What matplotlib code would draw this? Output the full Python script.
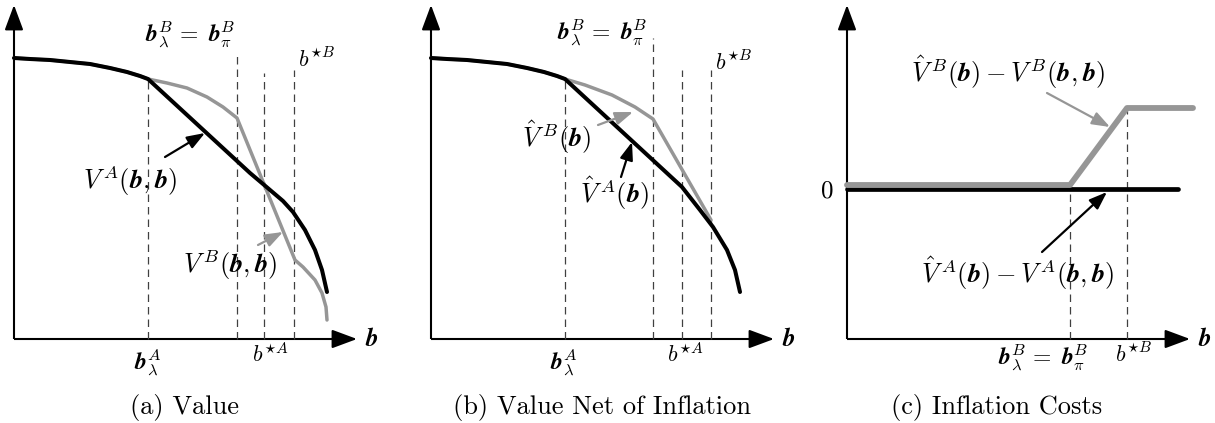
import numpy as np
import matplotlib
matplotlib.use("Agg")
import matplotlib.pyplot as plt

plt.rcParams['mathtext.fontset'] = 'cm'

GRAY = '#969696'

# coordinates are in "panel units": distance from the panel origin
# (a) Value
a_black_x = [0, 16, 36, 56, 76, 96, 113, 126, 134, 236, 249, 269, 279, 291, 301, 308, 313]
a_black_y = [281, 280, 279, 277, 275, 271, 267, 263, 260, 166, 155, 138, 127, 109, 89, 69, 47]
a_gray_x = [0, 16, 36, 56, 76, 96, 113, 126, 134, 153, 173, 193, 209, 223, 281, 289, 301, 308, 312, 313]
a_gray_y = [281, 280, 279, 277, 275, 271, 267, 263, 260, 256, 251, 242, 232, 221, 79, 72, 59, 46, 32, 19]
a_vlines_x = [134, 223, 250, 280]
a_vlines_top = [260, 284, 266, 269]

# (b) Value Net of Inflation
b_black_x = [0, 16, 36, 56, 76, 96, 113, 126, 134, 251, 269, 282, 296, 304, 309]
b_black_y = [281, 280, 279, 277, 275, 271, 267, 263, 260, 152, 129, 112, 89, 69, 47]
b_gray_x = [0, 16, 36, 56, 76, 96, 113, 126, 134, 154, 181, 204, 222, 280]
b_gray_y = [281, 280, 279, 277, 275, 271, 267, 263, 260, 254, 244, 232, 220, 119]
b_vlines_x = [134, 222, 251, 280]
b_vlines_top = [260, 301, 269, 269]

# (c) Inflation Costs
c_black_x = [0, 331]
c_black_y = [150, 150]
c_gray_x = [0, 223, 280, 346]
c_gray_y = [154, 154, 231, 231]
c_vlines_x = [223, 280]
c_vlines_top = [150, 231]

captions = ['(a) Value', '(b) Value Net of Inflation', '(c) Inflation Costs']
bb = r'\boldsymbol{b}'
b_eq = r'$' + bb + r'_\lambda^B\,=\;' + bb + r'_\pi^B$'
VA = r'{V\,}^{A}'
VB = r'{V\,}^{B}'
hVA = r'{\hat{V}\,}^{A}'
hVB = r'{\hat{V}\,}^{B}'

fig = plt.figure(figsize=(12.15, 4.23), dpi=100)


def make_panel(i, x0):
    ax = fig.add_axes([i / 3, 0, 1 / 3, 1])
    ax.set_xlim(-x0, 405 - x0)
    ax.set_ylim(-84, 339)
    ax.axis('off')
    # axes with arrow heads
    ax.plot([0, 0], [0, 322], color='k', lw=1.5, solid_capstyle='butt')
    ax.plot([0, 330], [0, 0], color='k', lw=1.5, solid_capstyle='butt')
    head = '-|>,head_length=0.7,head_width=0.26'
    ax.annotate('', xy=(0, 334), xytext=(0, 310),
                arrowprops=dict(arrowstyle=head, color='k', lw=1.5,
                                mutation_scale=22, shrinkA=0, shrinkB=0))
    ax.annotate('', xy=(343, 0), xytext=(320, 0),
                arrowprops=dict(arrowstyle=head, color='k', lw=1.5,
                                mutation_scale=22, shrinkA=0, shrinkB=0))
    ax.text(351, 0, '$' + bb + '$', fontsize=18, va='center', ha='left')
    ax.text(171 if i < 2 else 150, -68, captions[i], fontsize=19,
            family='cmr10', ha='center', va='center')
    return ax


def vlines(ax, xs, tops):
    for x, t in zip(xs, tops):
        ax.plot([x, x], [0, t], color='#404040', lw=0.9, dashes=(6, 4))


def pointer(ax, start, end, color):
    ax.annotate('', xy=end, xytext=start,
                arrowprops=dict(arrowstyle='-|>,head_length=0.6,head_width=0.22',
                                color=color, lw=1.6, mutation_scale=18,
                                shrinkA=0, shrinkB=0))


# panel (a)
ax = make_panel(0, 14)
vlines(ax, a_vlines_x, a_vlines_top)
ax.plot(a_gray_x, a_gray_y, color=GRAY, lw=2.5, solid_capstyle='round', solid_joinstyle='round')
ax.plot(a_black_x, a_black_y, color='k', lw=2.9, solid_capstyle='round', solid_joinstyle='round')
ax.text(176, 304, b_eq, fontsize=17, ha='center', va='center')
ax.text(284, 280, r'$b^{\star B}$', fontsize=16, ha='left', va='center')
ax.text(134, -23, r'$' + bb + r'_\lambda^A$', fontsize=17, ha='center', va='center')
ax.text(256, -15, r'$b^{\star A}$', fontsize=16, ha='center', va='center')
ax.text(116, 159, '$' + VA + '(' + bb + ',' + bb + ')$', fontsize=19, ha='center', va='center')
pointer(ax, (151, 182), (191, 206), 'k')
ax.text(216, 74, '$' + VB + '(' + bb + ',' + bb + ')$', fontsize=19, ha='center', va='center')
pointer(ax, (244, 94), (269, 107), GRAY)

# panel (b)
ax = make_panel(1, 26)
vlines(ax, b_vlines_x, b_vlines_top)
ax.plot(b_gray_x, b_gray_y, color=GRAY, lw=2.5, solid_capstyle='round', solid_joinstyle='round')
ax.plot(b_black_x, b_black_y, color='k', lw=2.9, solid_capstyle='round', solid_joinstyle='round')
ax.text(171, 306, b_eq, fontsize=17, ha='center', va='center')
ax.text(284, 277, r'$b^{\star B}$', fontsize=16, ha='left', va='center')
ax.text(133, -23, r'$' + bb + r'_\lambda^A$', fontsize=17, ha='center', va='center')
ax.text(254, -15, r'$b^{\star A}$', fontsize=16, ha='center', va='center')
ax.text(126, 202, '$' + hVB + '(' + bb + ')$', fontsize=19, ha='center', va='center')
pointer(ax, (167, 214), (202, 227), GRAY)
ax.text(184, 146, '$' + hVA + '(' + bb + ')$', fontsize=19, ha='center', va='center')
pointer(ax, (190, 162), (201, 197), 'k')

# panel (c)
ax = make_panel(2, 37)
vlines(ax, c_vlines_x, c_vlines_top)
ax.plot(c_black_x, c_black_y, color='k', lw=3.4, solid_capstyle='round')
ax.plot(c_gray_x, c_gray_y, color=GRAY, lw=4.2, solid_capstyle='round')
ax.text(-14, 148, '0', fontsize=18, family='cmr10', ha='right', va='center')
ax.text(161, 267, '$' + hVB + '(' + bb + ') - ' + VB + '(' + bb + ',' + bb + ')$',
        fontsize=19, ha='center', va='center')
pointer(ax, (200, 246), (263, 212), GRAY)
ax.text(171, 66, '$' + hVA + '(' + bb + ') - ' + VA + '(' + bb + ',' + bb + ')$',
        fontsize=19, ha='center', va='center')
pointer(ax, (195, 87), (260, 147), 'k')
ax.text(196, -19, b_eq, fontsize=17, ha='center', va='center')
ax.text(286, -15, r'$b^{\star B}$', fontsize=16, ha='center', va='center')

fig.savefig('out.png', dpi=100)
